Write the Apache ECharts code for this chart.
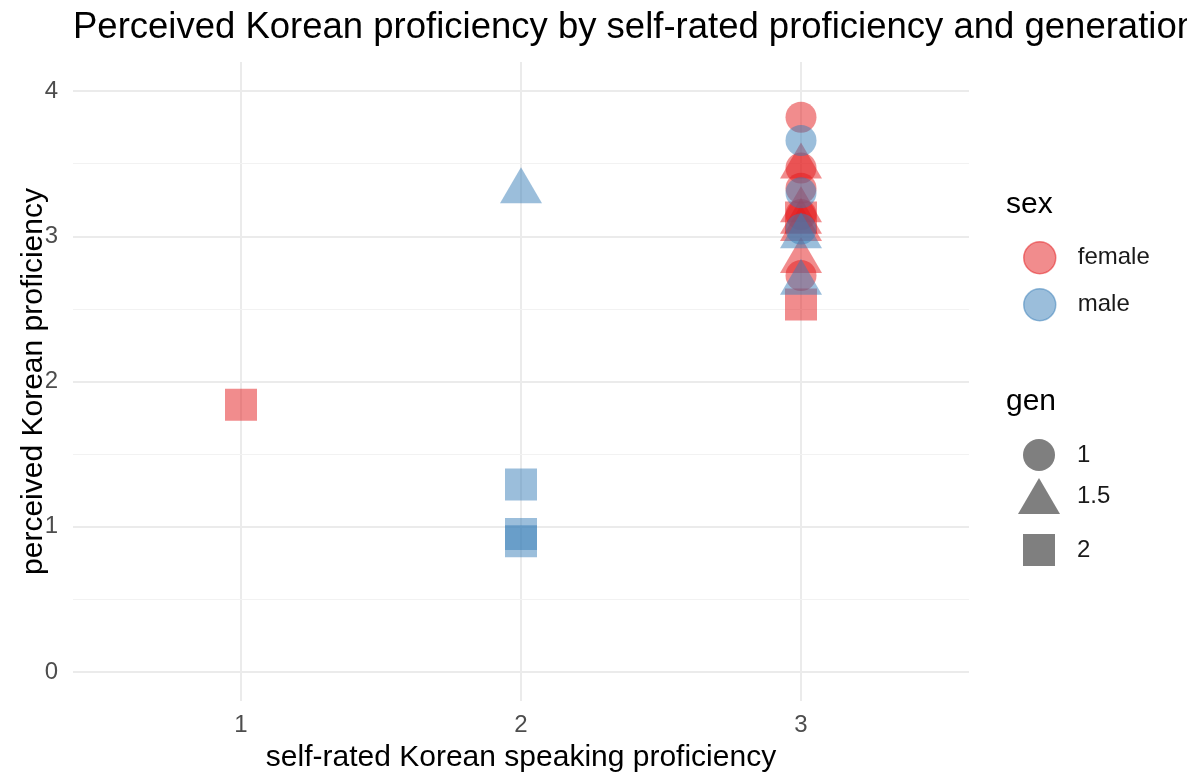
<!DOCTYPE html>
<html>
<head>
<meta charset="utf-8">
<script src="https://cdn.jsdelivr.net/npm/echarts@6/dist/echarts.min.js"></script>
<style>
html,body{margin:0;padding:0;background:#fff;}
#chart{width:1187px;height:772px;}
</style>
</head>
<body>
<div id="chart"></div>
<script>
// ---- data ----
const selfRated = [3, 3, 3, 3, 3,   3, 3, 3, 3, 3,   3, 3,   1,   3, 3, 3,   3, 3,   2,   2, 2, 2];
const perceived = [3.82, 3.47, 3.33, 3.15, 2.73,  3.48, 3.18, 3.10, 3.05, 2.83,  3.13, 2.53,  1.84,  3.66, 3.30, 3.05,  3.00, 2.68,  3.31,  1.29, 0.95, 0.90];
const sex = ['female','female','female','female','female', 'female','female','female','female','female', 'female','female', 'female', 'male','male','male', 'male','male', 'male', 'male','male','male'];
const gen = ['1','1','1','1','1', '1.5','1.5','1.5','1.5','1.5', '2','2', '2', '1','1','1', '1.5','1.5', '1.5', '2','2','2'];

const sexLevels = ['female', 'male'];
const genLevels = ['1', '1.5', '2'];
const xTicks = [1, 2, 3];
const yTicks = [0, 1, 2, 3, 4];
const yMinor = [0.5, 1.5, 2.5, 3.5];

const titleText = 'Perceived Korean proficiency by self-rated proficiency and generation';
const xTitle = 'self-rated Korean speaking proficiency';
const yTitle = 'perceived Korean proficiency';

// ---- styles ----
const FONT = '"Liberation Sans", Arial, Helvetica, sans-serif';
const sexColor = { female: 'rgba(228,26,28,0.5)', male: 'rgba(55,126,184,0.5)' };
const grey = 'rgba(0,0,0,0.5)';
const genSymbol = { '1': 'circle', '1.5': 'triangle', '2': 'rect' };
const genSize = { '1': 31, '1.5': [42, 36], '2': 32 };
const genOffset = { '1': [0, 0], '1.5': [0, -6], '2': [0, 0] };

// ---- build series grouped by sex x gen ----
const series = [];
sexLevels.forEach(s => {
  genLevels.forEach(g => {
    const data = [];
    for (let i = 0; i < perceived.length; i++) {
      if (sex[i] === s && gen[i] === g) data.push([selfRated[i], perceived[i]]);
    }
    series.push({
      name: s + ' / ' + g,
      type: 'scatter',
      data: data,
      symbol: genSymbol[g],
      symbolSize: genSize[g],
      symbolOffset: genOffset[g],
      itemStyle: { color: sexColor[s], opacity: 1 },
      emphasis: { disabled: true },
      z: 5
    });
  });
});
// legend-only series
sexLevels.forEach(s => series.push({ name: s, type: 'scatter', data: [], symbol: 'circle', itemStyle: { color: sexColor[s] } }));
genLevels.forEach(g => series.push({ name: g, type: 'scatter', data: [], symbol: genSymbol[g], itemStyle: { color: grey } }));

function legendItem(name, icon, color, left, top, w, h, border, pad) {
  return {
    data: [{ name: name, icon: icon, itemStyle: { color: color, borderColor: border ? color : 'transparent', borderWidth: border ? 1.5 : 0, opacity: 1 } }],
    left: left, top: top, padding: 0,
    itemWidth: w, itemHeight: h,
    selectedMode: false,
    textStyle: { fontSize: 24, color: '#1a1a1a', fontFamily: FONT, padding: [0, 0, 0, pad] }
  };
}

const legends = [
  legendItem('female', 'circle', sexColor.female, 1023, 241, 32, 32, true, 17),
  legendItem('male', 'circle', sexColor.male, 1023, 288, 32, 32, true, 17),
  legendItem('1', 'circle', grey, 1023, 439, 32, 32, false, 17),
  legendItem('1.5', 'triangle', grey, 1018, 478, 42, 36, false, 12),
  legendItem('2', 'rect', grey, 1023, 534, 32, 32, false, 17)
];

const chart = echarts.init(document.getElementById('chart'), null, { renderer: 'canvas' });
chart.setOption({
  backgroundColor: '#ffffff',
  animation: false,
  textStyle: { fontFamily: FONT },
  title: [
    { text: titleText, left: 73, top: 9, padding: 0, textStyle: { fontSize: 36.5, fontWeight: 'normal', color: '#000', fontFamily: FONT } },
    { text: 'sex', left: 1006, top: 190, padding: 0, textStyle: { fontSize: 30, fontWeight: 'normal', color: '#000', fontFamily: FONT } },
    { text: 'gen', left: 1006, top: 387, padding: 0, textStyle: { fontSize: 30, fontWeight: 'normal', color: '#000', fontFamily: FONT } }
  ],
  legend: legends,
  grid: { left: 73, right: 218, top: 62, bottom: 71, containLabel: false, outerBoundsMode: 'none' },
  xAxis: {
    type: 'value', min: 0.4, max: 3.6,
    name: xTitle, nameLocation: 'middle', nameGap: 42, nameMoveOverlap: false,
    nameTextStyle: { fontSize: 30, color: '#000', fontFamily: FONT },
    axisLine: { show: false },
    axisTick: { show: false, customValues: xTicks },
    axisLabel: { customValues: xTicks, fontSize: 24, color: '#4D4D4D', margin: 12, fontFamily: FONT },
    splitLine: { show: true, lineStyle: { color: '#EBEBEB', width: 2 } }
  },
  yAxis: [
    {
      type: 'value', min: -0.2, max: 4.2,
      name: yTitle, nameLocation: 'middle', nameGap: 24, nameRotate: 90, nameMoveOverlap: false,
      nameTextStyle: { fontSize: 30, color: '#000', fontFamily: FONT },
      axisLine: { show: false },
      axisTick: { show: false, customValues: yTicks },
      axisLabel: { customValues: yTicks, fontSize: 24, color: '#4D4D4D', margin: 15, fontFamily: FONT },
      splitLine: { show: true, lineStyle: { color: '#EBEBEB', width: 2 } },
      z: 2
    },
    {
      type: 'value', min: -0.2, max: 4.2, position: 'left',
      axisLine: { show: false },
      axisTick: { show: false, customValues: yMinor },
      axisLabel: { show: false, customValues: yMinor },
      splitLine: { show: true, lineStyle: { color: '#F2F2F2', width: 1 } },
      z: 1
    }
  ],
  series: series
});
</script>
</body>
</html>
